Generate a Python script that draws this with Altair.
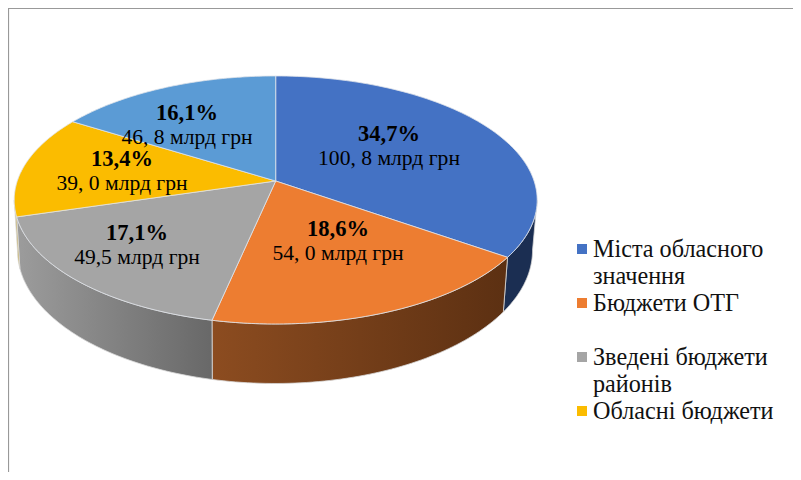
import numpy as np
import pandas as pd
import altair as alt

categories = ["Міста обласного значення", "Бюджети ОТГ", "Зведені бюджети районів", "Обласні бюджети", "Інші"]
amounts = [100.8, 54.0, 49.5, 39.0, 46.8]
share_labels = ["34,7%", "18,6%", "17,1%", "13,4%", "16,1%"]
amount_labels = ["100, 8 млрд грн", "54, 0 млрд грн", "49,5 млрд грн", "39, 0 млрд грн", "46, 8 млрд грн"]
top_colors = ["#4472c4", "#ed7d31", "#a5a5a5", "#fbbc00", "#5b9bd5"]
side_stops = [("#1b2e52", "#1b2e52"), ("#8c4c20", "#5c3012"), ("#9c9c9c", "#686868"), ("#c8b060", "#c8b060"), None]
legend_lines = [["Міста обласного", "значення"], ["Бюджети ОТГ"], ["Зведені бюджети", "районів"], ["Обласні бюджети"]]

W, H = 785, 464
OX, OY = 8, 8
xs = alt.Scale(domain=[OX, OX + W], range=[0, W], nice=False, zero=False)
ys = alt.Scale(domain=[OY, OY + H], range=[0, H], nice=False, zero=False)
X = lambda f="x": alt.X(f"{f}:Q", scale=xs, axis=None)
Y = lambda f="y": alt.Y(f"{f}:Q", scale=ys, axis=None)


def top(a):
    a = np.radians(a)
    u, v = np.sin(a), -np.cos(a)
    w = 1 - 0.153 * v
    return 275.7 + 258.4 * u / w, 181 + 121.1 * v / w


def bottom(a):
    a = np.radians(a)
    u, v = np.sin(a), -np.cos(a)
    w = 1 - 0.153 * v
    return 275 + 254.5 * u / w, 230 + 130 * v / w


total = sum(amounts)
edges = np.concatenate([[0], np.cumsum(amounts) / total * 360])
VIS0, VIS1 = 98.8, 261.2

layers = []
# sides
for i, stops in enumerate(side_stops):
    if stops is None:
        continue
    a0, a1 = max(edges[i], VIS0), min(edges[i + 1], VIS1)
    if a1 <= a0:
        continue
    arc = np.linspace(a0, a1, 60)
    tx, ty = top(arc)
    bx, by = bottom(arc[::-1])
    px = np.concatenate([tx, bx, tx[:1]])
    py = np.concatenate([ty, by, ty[:1]])
    df = pd.DataFrame({"x": px, "y": py, "i": range(len(px))})
    grad = alt.LinearGradient(
        gradient="linear",
        stops=[alt.GradientStop(color=stops[0], offset=0), alt.GradientStop(color=stops[1], offset=1)],
        x1=0, x2=1, y1=0, y2=0,
    )
    layers.append(
        alt.Chart(df).mark_line(fill=grad, stroke="#d8d8d8", strokeWidth=0.8, interpolate="linear")
        .encode(x=X(), y=Y(), order="i:Q")
    )
# top slices
for i, col in enumerate(top_colors):
    arc = np.linspace(edges[i], edges[i + 1], 90)
    tx, ty = top(arc)
    cx, cy = top(0)[0], 181
    px = np.concatenate([[cx], tx, [cx]])
    py = np.concatenate([[cy], ty, [cy]])
    df = pd.DataFrame({"x": px, "y": py, "i": range(len(px))})
    layers.append(
        alt.Chart(df).mark_line(fill=col, stroke="#dfe3ea", strokeWidth=0.8)
        .encode(x=X(), y=Y(), order="i:Q")
    )

# slice labels (anchor of first line, second line follows)
label_x = [389, 338, 137, 122, 187]
label_y = [134, 229, 233, 159, 113]
lab = pd.DataFrame({"x": label_x, "y": label_y, "s": share_labels,
                    "y2": [v + 25 for v in label_y], "a": amount_labels})
font = "Liberation Serif"
layers.append(alt.Chart(lab).mark_text(font=font, fontSize=22.5, fontWeight="bold", color="#000000")
              .encode(x=X(), y=Y(), text="s:N"))
layers.append(alt.Chart(lab).mark_text(font=font, fontSize=21.6, color="#000000")
              .encode(x=X(), y=Y("y2"), text="a:N"))

# legend
sq_y = [249, 303, 357, 411]
line_y = [[250, 277], [304], [358, 385], [412]]
sq = pd.DataFrame({"x": [582] * 4, "y": sq_y, "c": top_colors[:4]})
layers.append(alt.Chart(sq).mark_square(size=100, opacity=1)
              .encode(x=X(), y=Y(), color=alt.Color("c:N", scale=None)))
rows = [{"x": 593, "y": y, "t": t} for ls, yy in zip(legend_lines, line_y) for t, y in zip(ls, yy)]
layers.append(alt.Chart(pd.DataFrame(rows)).mark_text(font=font, fontSize=24.2, align="left", color="#111111")
              .encode(x=X(), y=Y(), text="t:N"))

# frame
frame_df = pd.DataFrame({"k": [0]})
layers.append(alt.Chart(frame_df).mark_rule(color="#999999", strokeWidth=1.2)
              .encode(x=alt.value(0.5), y=alt.value(0), y2=alt.value(H)))
layers.append(alt.Chart(frame_df).mark_rule(color="#999999", strokeWidth=1.2)
              .encode(y=alt.value(0.5), x=alt.value(0), x2=alt.value(W)))

chart = (
    alt.layer(*layers)
    .properties(width=W, height=H, padding=0, autosize=alt.AutoSizeParams(type="none"), background="white")
    .configure_view(stroke=None)
)
chart.save("out.html", embed_options={"renderer": "svg", "actions": False})
